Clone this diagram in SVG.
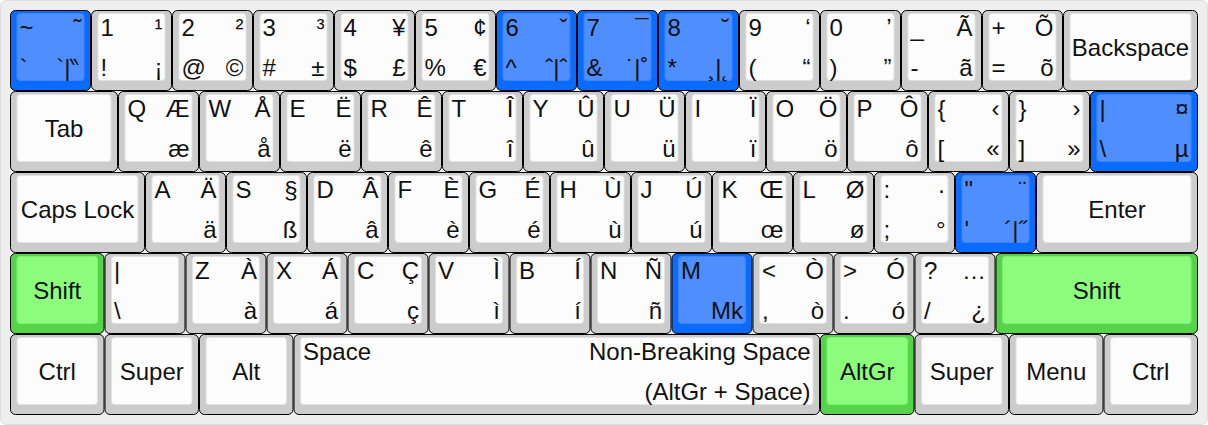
<svg xmlns="http://www.w3.org/2000/svg" width="1208" height="425" viewBox="0 0 1208 425">
<style>
.g{--of:#cccccc;--if:#fcfcfc;--is:#e2e2e2}
.b{--of:#0a6cff;--if:#4f8eff;--is:#3f84ff}
.n{--of:#55d44a;--if:#8bfc7c;--is:#7ff070}
.o{fill:var(--of);stroke:#000;stroke-width:1}
.i{fill:var(--if);stroke:var(--is);stroke-width:1}
text{font-family:"Liberation Sans",Arial,sans-serif;font-size:24px;fill:#111}
.r{text-anchor:end}
.c{text-anchor:middle}
</style>
<defs>
<g id="s1"><rect class="o" x="0.5" y="0.5" width="80" height="80" rx="5"/><rect class="i" x="7" y="3.5" width="67" height="67" rx="3"/></g>
<g id="s133"><rect class="o" x="0.5" y="0.5" width="107" height="80" rx="5"/><rect class="i" x="7" y="3.5" width="94" height="67" rx="3"/></g>
<g id="s167"><rect class="o" x="0.5" y="0.5" width="134" height="80" rx="5"/><rect class="i" x="7" y="3.5" width="121" height="67" rx="3"/></g>
<g id="s2"><rect class="o" x="0.5" y="0.5" width="161" height="80" rx="5"/><rect class="i" x="7" y="3.5" width="148" height="67" rx="3"/></g>
<g id="s117"><rect class="o" x="0.5" y="0.5" width="93.5" height="80" rx="5"/><rect class="i" x="7" y="3.5" width="80.5" height="67" rx="3"/></g>
<g id="s25"><rect class="o" x="0.5" y="0.5" width="201.5" height="80" rx="5"/><rect class="i" x="7" y="3.5" width="188.5" height="67" rx="3"/></g>
<g id="s65"><rect class="o" x="0.5" y="0.5" width="525.5" height="80" rx="5"/><rect class="i" x="7" y="3.5" width="512.5" height="67" rx="3"/></g>
</defs>
<rect x="0.5" y="0.5" width="1207" height="424" rx="6" fill="#eeeeee" stroke="#dddddd"/>

<!-- Row 1 -->
<g id="key-grave" class="b" transform="translate(10,10)"><use href="#s1"/><text x="9.5" y="26">~</text><text class="r" x="71.5" y="26">˜</text><text x="9.5" y="65.5">`</text><text class="r" x="71.5" y="65.5">`|‶</text></g>
<g id="key-1" class="g" transform="translate(91,10)"><use href="#s1"/><text x="9.5" y="26">1</text><text class="r" x="71.5" y="26">¹</text><text x="9.5" y="65.5">!</text><text class="r" x="71.5" y="65.5">¡</text></g>
<g id="key-2" class="g" transform="translate(172,10)"><use href="#s1"/><text x="9.5" y="26">2</text><text class="r" x="71.5" y="26">²</text><text x="9.5" y="65.5">@</text><text class="r" x="71.5" y="65.5">©</text></g>
<g id="key-3" class="g" transform="translate(253,10)"><use href="#s1"/><text x="9.5" y="26">3</text><text class="r" x="71.5" y="26">³</text><text x="9.5" y="65.5">#</text><text class="r" x="71.5" y="65.5">±</text></g>
<g id="key-4" class="g" transform="translate(334,10)"><use href="#s1"/><text x="9.5" y="26">4</text><text class="r" x="71.5" y="26">¥</text><text x="9.5" y="65.5">$</text><text class="r" x="71.5" y="65.5">£</text></g>
<g id="key-5" class="g" transform="translate(415,10)"><use href="#s1"/><text x="9.5" y="26">5</text><text class="r" x="71.5" y="26">¢</text><text x="9.5" y="65.5">%</text><text class="r" x="71.5" y="65.5">€</text></g>
<g id="key-6" class="b" transform="translate(496,10)"><use href="#s1"/><text x="9.5" y="26">6</text><text class="r" x="71.5" y="26">ˇ</text><text x="9.5" y="65.5">^</text><text class="r" x="71.5" y="65.5">ˆ|ˆ</text></g>
<g id="key-7" class="b" transform="translate(577,10)"><use href="#s1"/><text x="9.5" y="26">7</text><text class="r" x="71.5" y="26">¯</text><text x="9.5" y="65.5">&amp;</text><text class="r" x="71.5" y="65.5">˙|˚</text></g>
<g id="key-8" class="b" transform="translate(658,10)"><use href="#s1"/><text x="9.5" y="26">8</text><text class="r" x="71.5" y="26">˘</text><text x="9.5" y="65.5">*</text><text class="r" x="71.5" y="65.5">¸|˛</text></g>
<g id="key-9" class="g" transform="translate(739,10)"><use href="#s1"/><text x="9.5" y="26">9</text><text class="r" x="71.5" y="26">‘</text><text x="9.5" y="65.5">(</text><text class="r" x="71.5" y="65.5">“</text></g>
<g id="key-0" class="g" transform="translate(820,10)"><use href="#s1"/><text x="9.5" y="26">0</text><text class="r" x="71.5" y="26">’</text><text x="9.5" y="65.5">)</text><text class="r" x="71.5" y="65.5">”</text></g>
<g id="key-minus" class="g" transform="translate(901,10)"><use href="#s1"/><text x="9.5" y="26">_</text><text class="r" x="71.5" y="26">Ã</text><text x="9.5" y="65.5">-</text><text class="r" x="71.5" y="65.5">ã</text></g>
<g id="key-equal" class="g" transform="translate(982,10)"><use href="#s1"/><text x="9.5" y="26">+</text><text class="r" x="71.5" y="26">Õ</text><text x="9.5" y="65.5">=</text><text class="r" x="71.5" y="65.5">õ</text></g>
<g id="key-backspace" class="g" transform="translate(1063,10)"><use href="#s167"/><text class="c" x="67.5" y="45.5">Backspace</text></g>

<!-- Row 2 -->
<g id="key-tab" class="g" transform="translate(10,91)"><use href="#s133"/><text class="c" x="54" y="45.5">Tab</text></g>
<g id="key-q" class="g" transform="translate(118,91)"><use href="#s1"/><text x="9.5" y="26">Q</text><text class="r" x="71.5" y="26">Æ</text><text class="r" x="71.5" y="65.5">æ</text></g>
<g id="key-w" class="g" transform="translate(199,91)"><use href="#s1"/><text x="9.5" y="26">W</text><text class="r" x="71.5" y="26">Å</text><text class="r" x="71.5" y="65.5">å</text></g>
<g id="key-e" class="g" transform="translate(280,91)"><use href="#s1"/><text x="9.5" y="26">E</text><text class="r" x="71.5" y="26">Ë</text><text class="r" x="71.5" y="65.5">ë</text></g>
<g id="key-r" class="g" transform="translate(361,91)"><use href="#s1"/><text x="9.5" y="26">R</text><text class="r" x="71.5" y="26">Ê</text><text class="r" x="71.5" y="65.5">ê</text></g>
<g id="key-t" class="g" transform="translate(442,91)"><use href="#s1"/><text x="9.5" y="26">T</text><text class="r" x="71.5" y="26">Î</text><text class="r" x="71.5" y="65.5">î</text></g>
<g id="key-y" class="g" transform="translate(523,91)"><use href="#s1"/><text x="9.5" y="26">Y</text><text class="r" x="71.5" y="26">Û</text><text class="r" x="71.5" y="65.5">û</text></g>
<g id="key-u" class="g" transform="translate(604,91)"><use href="#s1"/><text x="9.5" y="26">U</text><text class="r" x="71.5" y="26">Ü</text><text class="r" x="71.5" y="65.5">ü</text></g>
<g id="key-i" class="g" transform="translate(685,91)"><use href="#s1"/><text x="9.5" y="26">I</text><text class="r" x="71.5" y="26">Ï</text><text class="r" x="71.5" y="65.5">ï</text></g>
<g id="key-o" class="g" transform="translate(766,91)"><use href="#s1"/><text x="9.5" y="26">O</text><text class="r" x="71.5" y="26">Ö</text><text class="r" x="71.5" y="65.5">ö</text></g>
<g id="key-p" class="g" transform="translate(847,91)"><use href="#s1"/><text x="9.5" y="26">P</text><text class="r" x="71.5" y="26">Ô</text><text class="r" x="71.5" y="65.5">ô</text></g>
<g id="key-lbracket" class="g" transform="translate(928,91)"><use href="#s1"/><text x="9.5" y="26">{</text><text class="r" x="71.5" y="26">‹</text><text x="9.5" y="65.5">[</text><text class="r" x="71.5" y="65.5">«</text></g>
<g id="key-rbracket" class="g" transform="translate(1009,91)"><use href="#s1"/><text x="9.5" y="26">}</text><text class="r" x="71.5" y="26">›</text><text x="9.5" y="65.5">]</text><text class="r" x="71.5" y="65.5">»</text></g>
<g id="key-backslash" class="b" transform="translate(1090,91)"><use href="#s133"/><text x="9.5" y="26">|</text><text class="r" x="98.5" y="26">¤</text><text x="9.5" y="65.5">\</text><text class="r" x="98.5" y="65.5">µ</text></g>

<!-- Row 3 -->
<g id="key-caps" class="g" transform="translate(10,172)"><use href="#s167"/><text class="c" x="67.5" y="45.5">Caps Lock</text></g>
<g id="key-a" class="g" transform="translate(145,172)"><use href="#s1"/><text x="9.5" y="26">A</text><text class="r" x="71.5" y="26">Ä</text><text class="r" x="71.5" y="65.5">ä</text></g>
<g id="key-s" class="g" transform="translate(226,172)"><use href="#s1"/><text x="9.5" y="26">S</text><text class="r" x="71.5" y="26">§</text><text class="r" x="71.5" y="65.5">ß</text></g>
<g id="key-d" class="g" transform="translate(307,172)"><use href="#s1"/><text x="9.5" y="26">D</text><text class="r" x="71.5" y="26">Â</text><text class="r" x="71.5" y="65.5">â</text></g>
<g id="key-f" class="g" transform="translate(388,172)"><use href="#s1"/><text x="9.5" y="26">F</text><text class="r" x="71.5" y="26">È</text><text class="r" x="71.5" y="65.5">è</text></g>
<g id="key-g" class="g" transform="translate(469,172)"><use href="#s1"/><text x="9.5" y="26">G</text><text class="r" x="71.5" y="26">É</text><text class="r" x="71.5" y="65.5">é</text></g>
<g id="key-h" class="g" transform="translate(550,172)"><use href="#s1"/><text x="9.5" y="26">H</text><text class="r" x="71.5" y="26">Ù</text><text class="r" x="71.5" y="65.5">ù</text></g>
<g id="key-j" class="g" transform="translate(631,172)"><use href="#s1"/><text x="9.5" y="26">J</text><text class="r" x="71.5" y="26">Ú</text><text class="r" x="71.5" y="65.5">ú</text></g>
<g id="key-k" class="g" transform="translate(712,172)"><use href="#s1"/><text x="9.5" y="26">K</text><text class="r" x="71.5" y="26">Œ</text><text class="r" x="71.5" y="65.5">œ</text></g>
<g id="key-l" class="g" transform="translate(793,172)"><use href="#s1"/><text x="9.5" y="26">L</text><text class="r" x="71.5" y="26">Ø</text><text class="r" x="71.5" y="65.5">ø</text></g>
<g id="key-semicolon" class="g" transform="translate(874,172)"><use href="#s1"/><text x="9.5" y="26">:</text><text class="r" x="71.5" y="26">·</text><text x="9.5" y="65.5">;</text><text class="r" x="71.5" y="65.5">°</text></g>
<g id="key-quote" class="b" transform="translate(955,172)"><use href="#s1"/><text x="9.5" y="26">"</text><text class="r" x="71.5" y="26">¨</text><text x="9.5" y="65.5">'</text><text class="r" x="71.5" y="65.5">´|˝</text></g>
<g id="key-enter" class="g" transform="translate(1036,172)"><use href="#s2"/><text class="c" x="81" y="45.5">Enter</text></g>

<!-- Row 4 -->
<g id="key-lshift" class="n" transform="translate(10,253)"><use href="#s117"/><text class="c" x="47.25" y="45.5">Shift</text></g>
<g id="key-iso" class="g" transform="translate(104.5,253)"><use href="#s1"/><text x="9.5" y="26">|</text><text x="9.5" y="65.5">\</text></g>
<g id="key-z" class="g" transform="translate(185.5,253)"><use href="#s1"/><text x="9.5" y="26">Z</text><text class="r" x="71.5" y="26">À</text><text class="r" x="71.5" y="65.5">à</text></g>
<g id="key-x" class="g" transform="translate(266.5,253)"><use href="#s1"/><text x="9.5" y="26">X</text><text class="r" x="71.5" y="26">Á</text><text class="r" x="71.5" y="65.5">á</text></g>
<g id="key-c" class="g" transform="translate(347.5,253)"><use href="#s1"/><text x="9.5" y="26">C</text><text class="r" x="71.5" y="26">Ç</text><text class="r" x="71.5" y="65.5">ç</text></g>
<g id="key-v" class="g" transform="translate(428.5,253)"><use href="#s1"/><text x="9.5" y="26">V</text><text class="r" x="71.5" y="26">Ì</text><text class="r" x="71.5" y="65.5">ì</text></g>
<g id="key-b" class="g" transform="translate(509.5,253)"><use href="#s1"/><text x="9.5" y="26">B</text><text class="r" x="71.5" y="26">Í</text><text class="r" x="71.5" y="65.5">í</text></g>
<g id="key-n" class="g" transform="translate(590.5,253)"><use href="#s1"/><text x="9.5" y="26">N</text><text class="r" x="71.5" y="26">Ñ</text><text class="r" x="71.5" y="65.5">ñ</text></g>
<g id="key-m" class="b" transform="translate(671.5,253)"><use href="#s1"/><text x="9.5" y="26">M</text><text class="r" x="71.5" y="65.5">Mk</text></g>
<g id="key-comma" class="g" transform="translate(752.5,253)"><use href="#s1"/><text x="9.5" y="26">&lt;</text><text class="r" x="71.5" y="26">Ò</text><text x="9.5" y="65.5">,</text><text class="r" x="71.5" y="65.5">ò</text></g>
<g id="key-period" class="g" transform="translate(833.5,253)"><use href="#s1"/><text x="9.5" y="26">&gt;</text><text class="r" x="71.5" y="26">Ó</text><text x="9.5" y="65.5">.</text><text class="r" x="71.5" y="65.5">ó</text></g>
<g id="key-slash" class="g" transform="translate(914.5,253)"><use href="#s1"/><text x="9.5" y="26">?</text><text class="r" x="71.5" y="26">…</text><text x="9.5" y="65.5">/</text><text class="r" x="71.5" y="65.5">¿</text></g>
<g id="key-rshift" class="n" transform="translate(995.5,253)"><use href="#s25"/><text class="c" x="101.25" y="45.5">Shift</text></g>

<!-- Row 5 -->
<g id="key-lctrl" class="g" transform="translate(10,334)"><use href="#s117"/><text class="c" x="47.25" y="45.5">Ctrl</text></g>
<g id="key-lsuper" class="g" transform="translate(104.5,334)"><use href="#s117"/><text class="c" x="47.25" y="45.5">Super</text></g>
<g id="key-alt" class="g" transform="translate(199,334)"><use href="#s117"/><text class="c" x="47.25" y="45.5">Alt</text></g>
<g id="key-space" class="g" transform="translate(293.5,334)"><use href="#s65"/><text x="9.5" y="26">Space</text><text class="r" x="517" y="26">Non-Breaking Space</text><text class="r" x="517" y="65.5">(AltGr + Space)</text></g>
<g id="key-altgr" class="n" transform="translate(820,334)"><use href="#s117"/><text class="c" x="47.25" y="45.5">AltGr</text></g>
<g id="key-rsuper" class="g" transform="translate(914.5,334)"><use href="#s117"/><text class="c" x="47.25" y="45.5">Super</text></g>
<g id="key-menu" class="g" transform="translate(1009,334)"><use href="#s117"/><text class="c" x="47.25" y="45.5">Menu</text></g>
<g id="key-rctrl" class="g" transform="translate(1103.5,334)"><use href="#s117"/><text class="c" x="47.25" y="45.5">Ctrl</text></g>
</svg>
